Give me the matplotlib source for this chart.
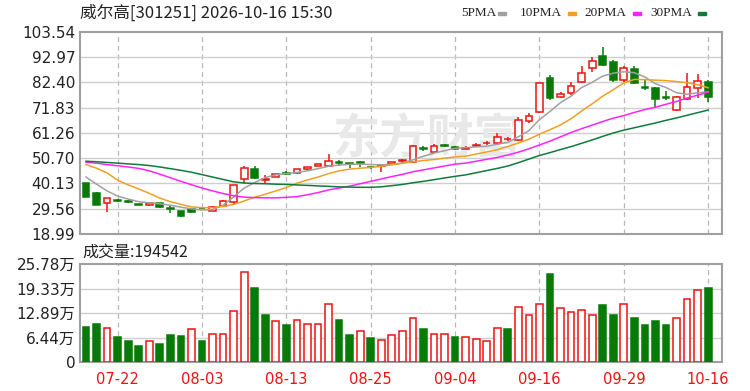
import matplotlib
matplotlib.use("Agg")
import matplotlib.pyplot as plt
import numpy as np

plt.rcParams['font.family'] = ['DejaVu Sans', 'Noto Sans CJK SC']

# ---------------- data ----------------
title = "威尔高[301251] 2026-10-16 15:30"
dates = ["07-22", "08-03", "08-13", "08-25", "09-04", "09-16", "09-29", "10-16"]
date_idx = [3, 11, 19, 27, 35, 43, 51, 59]

opens = [40.1, 36.2, 32.1, 33.0, 32.6, 31.5, 31.1, 31.8, 29.8, 28.6,
         29.3, 29.8, 28.6, 30.7, 32.5, 41.8, 46.0, 41.7, 42.9, 44.4,
         44.3, 46.0, 47.6, 47.5, 48.9, 48.6, 48.9, 47.1, 47.4, 48.2,
         49.5, 49.2, 54.9, 53.4, 56.0, 55.5, 54.6, 55.8, 56.9, 57.1,
         58.5, 58.2, 66.3, 70.1, 84.0, 76.1, 78.0, 82.6, 88.2, 93.4,
         91.0, 83.4, 88.0, 80.5, 79.9, 76.2, 70.8, 75.5, 79.9, 82.4]
highs = [40.5, 36.5, 34.1, 33.8, 33.0, 31.6, 32.1, 31.9, 30.6, 28.8,
         29.4, 30.0, 30.6, 33.0, 39.6, 47.4, 47.4, 43.6, 44.1, 45.2,
         46.3, 46.9, 48.4, 52.3, 49.8, 48.8, 49.6, 47.4, 47.8, 49.2,
         50.4, 56.2, 55.9, 56.6, 56.8, 55.8, 55.6, 57.0, 57.8, 61.3,
         59.4, 67.7, 69.7, 82.2, 85.4, 78.2, 82.6, 89.2, 93.1, 97.0,
         91.7, 89.0, 89.0, 83.4, 80.5, 78.6, 76.6, 86.4, 85.9, 83.4]
lows = [34.3, 31.0, 28.3, 32.4, 32.0, 31.2, 30.5, 30.0, 27.9, 26.3,
        27.9, 29.4, 28.4, 30.5, 31.5, 40.2, 41.8, 40.4, 42.7, 43.5,
        44.1, 45.8, 47.3, 47.3, 47.6, 46.4, 46.8, 46.2, 45.0, 47.9,
        48.5, 48.8, 53.6, 53.0, 55.4, 54.2, 54.4, 55.6, 56.3, 56.2,
        57.8, 58.0, 65.2, 69.7, 75.0, 75.9, 77.2, 82.0, 86.8, 89.4,
        82.6, 82.5, 81.5, 79.2, 71.7, 74.8, 70.4, 75.2, 75.7, 74.3]
closes = [34.6, 31.2, 33.9, 32.8, 32.4, 31.3, 32.0, 30.1, 29.6, 26.6,
          28.0, 29.7, 30.4, 32.9, 39.4, 46.7, 42.5, 42.1, 43.9, 44.2,
          46.1, 46.8, 48.2, 49.4, 48.7, 48.4, 48.6, 46.9, 47.6, 49.0,
          49.7, 55.8, 54.7, 55.8, 55.9, 54.4, 54.8, 56.2, 57.2, 59.6,
          58.7, 66.6, 68.3, 82.0, 75.7, 77.4, 80.8, 86.2, 91.3, 89.6,
          83.4, 88.2, 82.0, 80.1, 75.5, 76.0, 76.2, 80.3, 83.1, 76.4]

ma5 = [42.8, 39.8, 37.0, 34.8, 33.6, 32.5, 32.0, 31.6, 31.0, 30.2,
       29.5, 29.0, 29.2, 31.0, 34.5, 38.2, 40.5, 42.6, 43.7, 44.2,
       44.7, 45.4, 46.3, 47.3, 47.8, 48.1, 48.2, 48.0, 47.9, 48.1,
       48.7, 50.0, 51.5, 52.8, 53.8, 54.8, 55.1, 55.4, 55.7, 56.5,
       57.3, 59.6, 62.2, 66.8, 70.2, 73.9, 76.6, 80.2, 82.4, 85.0,
       86.2, 86.8, 86.4, 84.6, 81.8, 80.2, 78.0, 77.4, 78.0, 78.4]
ma10 = [48.0, 46.5, 44.5, 41.5, 39.5, 37.8, 36.0, 34.0, 32.5, 31.4,
        30.3, 30.0, 30.0, 30.5, 31.3, 32.8, 34.4, 35.6, 37.0, 38.4,
        40.2, 41.6, 42.8, 44.2, 45.4, 46.1, 46.5, 46.8, 47.3, 47.9,
        48.5, 49.2, 49.7, 50.1, 50.7, 51.2, 51.5, 52.4, 53.3, 54.2,
        55.6, 57.0, 58.6, 60.7, 62.6, 64.6, 67.2, 70.4, 73.4, 76.6,
        79.3, 82.1, 83.6, 83.5, 83.3, 83.1, 82.7, 82.2, 81.4, 80.1]
ma20 = [49.0, 48.6, 48.0, 47.5, 47.0, 46.4, 45.4, 44.0, 42.5, 41.0,
        39.6, 38.2, 37.0, 35.9, 35.0, 34.4, 34.2, 34.1, 34.1, 34.3,
        34.6, 35.4, 36.3, 37.4, 38.2, 39.0, 40.0, 41.0, 42.0, 43.0,
        43.9, 45.0, 45.8, 46.6, 47.4, 48.2, 48.6, 49.4, 50.2, 51.0,
        52.0, 53.2, 54.6, 56.2, 57.8, 59.6, 61.4, 63.0, 64.5, 66.0,
        67.4, 68.5, 69.8, 71.0, 72.0, 73.2, 74.4, 75.8, 77.0, 78.3]
ma30 = [49.4, 49.2, 48.9, 48.6, 48.3, 48.0, 47.6, 47.0, 46.3, 45.6,
        44.8, 43.8, 42.8, 41.8, 40.8, 40.3, 40.1, 40.0, 39.8, 39.7,
        39.5, 39.3, 39.1, 38.9, 38.7, 38.6, 38.5, 38.5, 38.7, 39.2,
        39.7, 40.4, 41.0, 41.7, 42.4, 43.1, 43.7, 44.6, 45.5, 46.4,
        47.4, 48.8, 50.3, 51.8, 53.0, 54.3, 55.5, 56.9, 58.3, 59.8,
        61.2, 62.4, 63.4, 64.4, 65.4, 66.5, 67.5, 68.6, 69.7, 70.8]

# volume in 万 (10k shares)
volume = [9.38, 10.09, 9.03, 6.75, 5.70, 4.21, 5.61, 4.91, 7.19, 6.84,
          8.68, 5.70, 7.54, 7.54, 13.51, 23.85, 19.47, 12.45, 10.96, 9.82,
          11.23, 10.09, 10.09, 15.35, 11.23, 7.19, 8.33, 6.49, 5.88, 7.19,
          8.33, 11.58, 8.77, 7.45, 7.45, 6.75, 6.75, 6.05, 5.70, 8.95,
          8.68, 14.47, 12.45, 15.35, 23.24, 14.21, 13.16, 13.77, 12.45, 15.00,
          12.45, 15.35, 11.66, 9.82, 10.96, 9.82, 11.58, 16.58, 19.03, 19.45]
# 1 = up day (red hollow volume bar), 0 = down day (green filled)
vol_up = [0, 0, 1, 0, 0, 0, 1, 0, 0, 0, 1, 0, 1, 1, 1, 1, 0, 0, 1, 0,
          1, 1, 1, 1, 0, 0, 1, 0, 1, 1, 1, 1, 0, 1, 1, 0, 1, 1, 1, 1,
          0, 1, 1, 1, 0, 1, 1, 1, 1, 0, 0, 1, 0, 0, 0, 0, 1, 1, 1, 0]
last_volume = 194542

price_ticks = [18.99, 29.56, 40.13, 50.70, 61.26, 71.83, 82.40, 92.97, 103.54]
vol_ticks = [0, 6.44, 12.89, 19.33, 25.78]
vol_tick_labels = ["0", "6.44万", "12.89万", "19.33万", "25.78万"]

ma_names = ["5PMA", "10PMA", "20PMA", "30PMA"]

# ---------------- style ----------------
RED = "#ee1111"
GREEN = "#087a08"
MA_COLORS = ["#a0a0a0", "#f0a020", "#ff22ff", "#107a3c"]
GRID = "#cfcfcf"
FRAME = "#a0a0a0"
TXT = "#222222"

W, H = 750, 391
fig = plt.figure(figsize=(W / 100, H / 100), dpi=100)
fig.patch.set_facecolor("white")

x0, x1 = 80, 722
ax1 = fig.add_axes([x0 / W, 1 - 234 / H, (x1 - x0) / W, (234 - 31.7) / H])
ax2 = fig.add_axes([x0 / W, 1 - 362.3 / H, (x1 - x0) / W, (362.3 - 264.3) / H])

n = len(closes)
xs = np.arange(n)
xlim = (-0.57, 60.31)
bw = 0.64

for ax in (ax1, ax2):
    ax.set_xlim(*xlim)
    for s in ax.spines.values():
        s.set_color(FRAME)
        s.set_linewidth(1.5)
    ax.tick_params(length=0)
    ax.set_xticks(date_idx)
    for d in date_idx:
        ax.axvline(d, color="#b8b8b8", lw=0.9, ls=(0, (4, 3)), zorder=0)

# ----- price panel -----
ax1.set_ylim(price_ticks[0], price_ticks[-1])
ax1.set_yticks(price_ticks)
ax1.set_yticklabels([f"{v:.2f}" for v in price_ticks], fontsize=11, color=TXT)
for v in price_ticks[1:-1]:
    ax1.axhline(v, color=GRID, lw=1, zorder=0)
ax1.set_xticklabels([])

# watermark
ax1.text(0.54, 0.47, "东方财富", transform=ax1.transAxes, fontsize=34,
         fontweight="bold", color="#e8e8e8", ha="center", va="center",
         family=["Noto Sans CJK SC"], zorder=0)

o = np.array(opens); c = np.array(closes); hi = np.array(highs); lo = np.array(lows)
up = c >= o
col = np.where(up, RED, GREEN)
ax1.vlines(xs, lo, hi, colors=col, lw=1.1, zorder=2)
body_h = np.maximum(np.abs(c - o), 0.25)
body_b = np.minimum(o, c)
ax1.bar(xs, body_h, bottom=body_b, width=bw,
        facecolor=np.where(up, "white", GREEN), edgecolor=col, lw=1.1, zorder=3)

for vals, colr in zip([ma5, ma10, ma20, ma30], MA_COLORS):
    ax1.plot(xs, vals, color=colr, lw=1.1, zorder=4)

# ----- volume panel -----
ax2.set_ylim(0, vol_ticks[-1])
ax2.set_yticks(vol_ticks)
ax2.set_yticklabels(vol_tick_labels, fontsize=11, color=TXT)
for v in vol_ticks[1:-1]:
    ax2.axhline(v, color=GRID, lw=1, zorder=0)
vup = np.array(vol_up) == 1
ax2.bar(xs, volume, width=bw, facecolor=np.where(vup, "white", GREEN),
        edgecolor=np.where(vup, RED, GREEN), lw=1.1, zorder=3)
ax2.set_xticklabels(dates, fontsize=10.5, color=RED)
ax2.tick_params(axis="x", pad=7)

# ----- texts -----
fig.text(80 / W, 1 - 13.5 / H, title, fontsize=12, color=TXT, va="center",
         ha="left", family=["Noto Sans CJK SC", "DejaVu Sans"])
fig.text(82 / W, 1 - 252 / H, f"成交量:{last_volume}", fontsize=11.5, color=TXT,
         va="center", ha="left", family=["Noto Sans CJK SC", "DejaVu Sans"])

leg_text_x = [461, 520, 584, 650]
leg_sw_x = [498, 568, 633, 698]
for name, tx, sx, colr in zip(ma_names, leg_text_x, leg_sw_x, MA_COLORS):
    fig.text(tx / W, 1 - 13.5 / H, name, fontsize=9.5, color=TXT, va="center",
             ha="left", family=["Liberation Serif"])
    fig.patches.append(plt.Rectangle((sx / W, 1 - 15 / H), 8 / W, 3.5 / H,
                                     transform=fig.transFigure, color=colr,
                                     figure=fig))

fig.savefig("out.png", dpi=100, facecolor="white")
